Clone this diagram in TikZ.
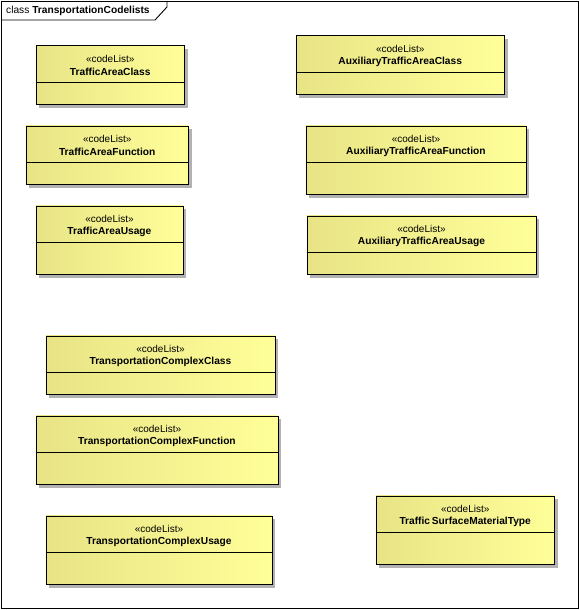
\documentclass[tikz,border=0pt]{standalone}
\usepackage{fontspec}
\setmainfont{Liberation Sans}
\usetikzlibrary{shadows,calc}
\definecolor{ylleft}{RGB}{232,228,134}
\definecolor{ylright}{RGB}{255,255,153}
\definecolor{shgray}{RGB}{178,178,178}
\tikzset{
  clbody/.style={draw=black, line width=0.9pt, inner sep=0pt, anchor=north west,
    left color=ylleft, right color=ylright, shading angle=90,
    drop shadow={shadow xshift=3.5pt, shadow yshift=-3.5pt, fill=shgray, opacity=1}},
  stereo/.style={font=\fontsize{10}{12}\selectfont, inner sep=0pt},
  clname/.style={font=\fontsize{10.2}{12}\selectfont\bfseries, inner sep=0pt},
  divline/.style={line width=0.9pt},
}
% #1 name, #2 x1, #3 y1, #4 x2, #5 y2, #6 divider y, #7 text
\newcommand\clbox[7]{%
  \pgfmathsetmacro\bw{#4-#2}\pgfmathsetmacro\bh{#5-#3}%
  \node[clbody, minimum width=\bw pt, minimum height=\bh pt] (#1) at (#2pt,-#3pt) {};
  \node[stereo] (#1-st) at ($(#1.north)+(0,-13pt)$) {«codeList»};
  \node[clname] (#1-nm) at ($(#1.north)+(0,-26.5pt)$) {#7};
  \draw[divline] (#1.west |- 0,-#6pt) -- (#1.east |- 0,-#6pt);
}
\begin{document}
\begin{tikzpicture}[x=1pt,y=1pt]
\useasboundingbox (0,0) rectangle (580,-610);
% frame
\draw[line width=0.9pt] (1,-1) rectangle (578,-608);
\draw[line width=0.9pt] (1,-20) -- (155,-20) -- (167,-7) -- (167,-1);
\node[anchor=west, inner sep=0pt, font=\fontsize{10.2}{12}\selectfont] (title) at (6,-10.5) {class \textbf{TransportationCodelists}};
% boxes
\clbox{tac}{35.5}{45.5}{184}{104}{82}{TrafficAreaClass}
\clbox{atac}{295.5}{35.5}{504}{94}{72}{AuxiliaryTrafficAreaClass}
\clbox{taf}{25.5}{125.5}{188}{184}{162}{TrafficAreaFunction}
\clbox{ataf}{305.5}{125.5}{525.5}{194}{162}{AuxiliaryTrafficAreaFunction}
\clbox{tau}{35.5}{205.5}{182.5}{274}{242}{TrafficAreaUsage}
\clbox{atau}{306.5}{215.5}{535.5}{274}{252}{AuxiliaryTrafficAreaUsage}
\clbox{tcc}{45.5}{335.5}{274.5}{394}{372}{TransportationComplexClass}
\clbox{tcf}{35.5}{415.5}{277.5}{484}{452}{TransportationComplexFunction}
\clbox{tcu}{45.5}{515.5}{271.5}{584}{552}{TransportationComplexUsage}
\clbox{tsm}{375.5}{495.5}{554}{564}{532}{Traffic\,SurfaceMaterialType}
\end{tikzpicture}
\end{document}
